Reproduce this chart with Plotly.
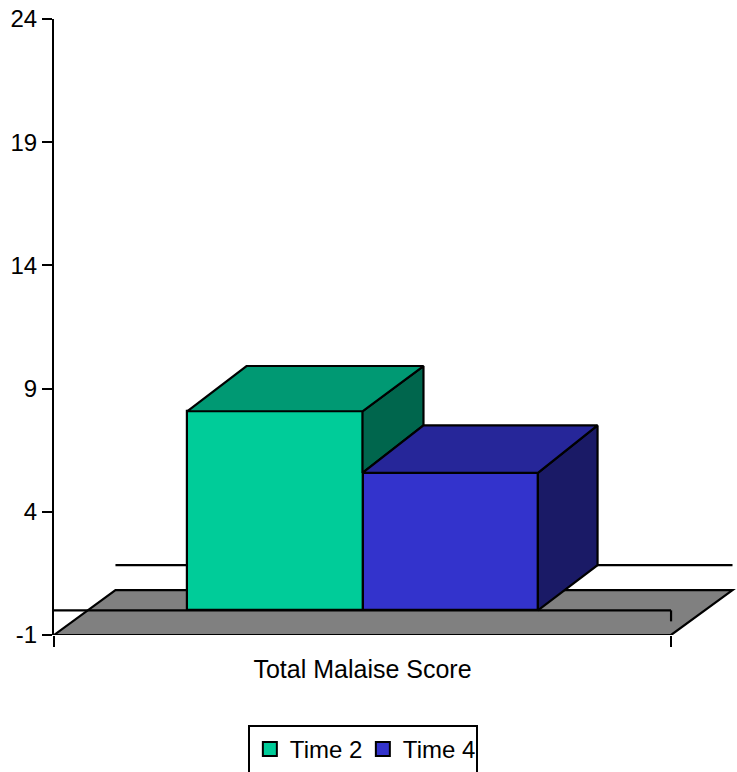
import plotly.graph_objects as go

categories = ["Total Malaise Score"]
series_names = ["Time 2", "Time 4"]
series_values = [8.08, 5.58]
front_colors = ["#00CC99", "#3333CC"]
top_colors = ["#009973", "#262699"]
side_colors = ["#00664D", "#1A1A66"]
y_ticks = [-1, 4, 9, 14, 19, 24]
y_tick_labels = ["-1", "4", "9", "14", "19", "24"]

W, H = 737, 772
L, R_AX, T, B = 53.5, 671.0, 18.5, 635.0
xu = R_AX - L            # px per x unit: the category slot is one unit wide
yu = (B - T) / 25.0      # px per value unit
BAR_W = 175.5 / xu
DX_LEFT = [59.4 / xu, 61.0 / xu]     # depth of each box at its left edge
DX_RIGHT = [61.0 / xu, 59.7 / xu]    # depth of each box at its right edge
DY_TOP = [45.3 / yu, 47.5 / yu]      # depth of each box at its top
DY_BASE = 45.3 / yu                  # depth at the floor
FDX, FDY = 61.5 / xu, 45.0 / yu
XMIN, XMAX = -0.5, -0.5 + (W - L) / xu
INK = "#000000"
LW = 2.2

fig = go.Figure()

# front faces
for i, (name, v) in enumerate(zip(series_names, series_values)):
    fig.add_trace(go.Bar(
        x=[0], y=[v], width=BAR_W, offset=(i - 1) * BAR_W,
        marker=dict(color=front_colors[i], line=dict(color=INK, width=LW)),
        showlegend=False, hoverinfo="skip"))

# side and top faces
for i, v in enumerate(series_values):
    x0 = (i - 1) * BAR_W
    x1 = x0 + BAR_W
    has_next = i + 1 < len(series_values)
    low_front = series_values[i + 1] if has_next else 0
    low_back = series_values[i + 1] + DY_TOP[i + 1] if has_next else DY_BASE
    fig.add_trace(go.Scatter(
        x=[x1, x1 + DX_RIGHT[i], x1 + DX_RIGHT[i], x1, x1],
        y=[v, v + DY_TOP[i], low_back, low_front, v],
        mode="lines", fill="toself", fillcolor=side_colors[i],
        line=dict(color=INK, width=LW), showlegend=False, hoverinfo="skip"))
    fig.add_trace(go.Scatter(
        x=[x0, x0 + DX_LEFT[i], x1 + DX_RIGHT[i], x1, x0],
        y=[v, v + DY_TOP[i], v + DY_TOP[i], v, v],
        mode="lines", fill="toself", fillcolor=top_colors[i],
        line=dict(color=INK, width=LW), showlegend=False, hoverinfo="skip"))

# legend entries
for i, name in enumerate(series_names):
    fig.add_trace(go.Scatter(
        x=[None], y=[None], name=name, mode="markers",
        marker=dict(symbol="square", size=14, color=front_colors[i],
                    line=dict(color=INK, width=2))))

shapes = [
    # floor
    dict(type="path", layer="below",
         path=f"M -0.5 -1 L 0.5 -1 L {0.5 + FDX} {-1 + FDY} L {-0.5 + FDX} {-1 + FDY} Z",
         fillcolor="#808080", line=dict(color=INK, width=LW)),
    # back zero line
    dict(type="line", layer="below", x0=-0.5 + FDX, x1=0.5 + FDX, y0=DY_BASE, y1=DY_BASE,
         line=dict(color=INK, width=LW)),
    # front zero line
    dict(type="line", layer="below", x0=-0.5, x1=0.5, y0=0, y1=0,
         line=dict(color=INK, width=LW)),
    dict(type="line", layer="below", x0=0.5, x1=0.5, y0=0, y1=-11 / yu,
         line=dict(color=INK, width=LW)),
]

fig.update_layout(
    width=W, height=H, autosize=False,
    margin=dict(l=L, r=0, t=T, b=H - B, pad=0, autoexpand=False),
    paper_bgcolor="white", plot_bgcolor="white",
    font=dict(family="Liberation Sans", size=24, color="#000000"),
    shapes=shapes,
    bargap=0,
    xaxis=dict(range=[XMIN, XMAX], tickmode="array", tickvals=[0], ticktext=categories,
               ticks="outside", ticklen=12, tickcolor="rgba(0,0,0,0)",
               tickfont=dict(size=25),
               minor=dict(tickmode="array", tickvals=[-0.5, 0.5], ticks="outside",
                          ticklen=11, tickwidth=2, tickcolor=INK, showgrid=False),
               showgrid=False, zeroline=False, showline=False, automargin=False),
    yaxis=dict(range=[-1, 24], tickmode="array", tickvals=y_ticks, ticktext=y_tick_labels,
               ticks="outside", ticklen=10, tickwidth=2, tickcolor=INK,
               showline=True, linecolor=INK, linewidth=2,
               showgrid=False, zeroline=False, automargin=False),
    legend=dict(orientation="h", x=(247.5 - L) / (W - L), xanchor="left",
                y=(B - 725) / (B - T), yanchor="top",
                entrywidth=68, entrywidthmode="pixels",
                bordercolor=INK, borderwidth=2, bgcolor="white",
                font=dict(size=24)),
)

fig.write_html("out.html", config={"displayModeBar": False},
               post_script="document.body.style.margin='0';")
